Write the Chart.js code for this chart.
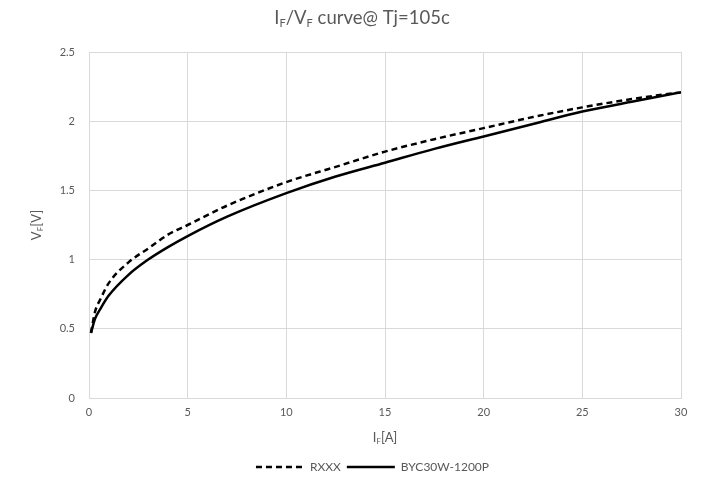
<!DOCTYPE html>
<html>
<head>
<meta charset="utf-8">
<script src="https://cdn.jsdelivr.net/npm/chart.js@4.4.1/dist/chart.umd.min.js"></script>
<style>
  html, body { margin: 0; padding: 0; background: #fff; }
  #wrap { width: 721px; height: 497px; position: relative; }
</style>
</head>
<body>
<div id="wrap"><canvas id="chartIV"></canvas></div>
<script>
// forward current I_F [A]
var currentA = [0.1, 0.3, 0.6, 1, 2, 3, 4, 5, 7, 10, 12.5, 15, 17.5, 20, 22.5, 25, 27.5, 30];
// forward voltage V_F [V]
var rxxxV = [0.47, 0.62, 0.72, 0.83, 0.98, 1.08, 1.18, 1.25, 1.39, 1.56, 1.67, 1.78, 1.87, 1.95, 2.03, 2.10, 2.16, 2.21];
var bycV  = [0.47, 0.57, 0.65, 0.74, 0.89, 1.00, 1.09, 1.17, 1.31, 1.48, 1.60, 1.70, 1.80, 1.89, 1.98, 2.07, 2.14, 2.21];
var seriesNames = ['RXXX', 'BYC30W-1200P'];

// "_X" means X is a subscript
var titleText = 'I_F/V_F curve@ Tj=105c';
var xTitleText = 'I_F[A]';
var yTitleText = 'V_F[V]';

var textGray = '#595959';
var gridGray = '#d9d9d9';
var fontFamily = 'Lato, "Open Sans", sans-serif';

function toPoints(xs, ys) {
  return xs.map(function(x, i) { return {x: x, y: ys[i]}; });
}

function splitSub(text) {
  var parts = [];
  for (var i = 0; i < text.length; i++) {
    if (text[i] === '_' && i + 1 < text.length) {
      parts.push({t: text[i + 1], sub: true});
      i++;
    } else if (parts.length && !parts[parts.length - 1].sub) {
      parts[parts.length - 1].t += text[i];
    } else {
      parts.push({t: text[i], sub: false});
    }
  }
  return parts;
}

// draws text centred on (cx, cy) with small lowered subscripts
function drawSubText(ctx, text, cx, cy, size, angle) {
  var parts = splitSub(text);
  var subSize = Math.round(size * 0.6);
  var total = 0;
  parts.forEach(function(p) {
    ctx.font = (p.sub ? subSize : size) + 'px ' + fontFamily;
    p.w = ctx.measureText(p.t).width;
    total += p.w;
  });
  ctx.save();
  ctx.translate(cx, cy);
  ctx.rotate(angle || 0);
  ctx.fillStyle = textGray;
  ctx.textBaseline = 'middle';
  ctx.textAlign = 'left';
  var x = -total / 2;
  parts.forEach(function(p) {
    ctx.font = (p.sub ? subSize : size) + 'px ' + fontFamily;
    ctx.fillText(p.t, x, p.sub ? size * 0.3 : 0);
    x += p.w;
  });
  ctx.restore();
}

var subTitles = {
  id: 'subTitles',
  afterLayout: function(chart) {
    // legend in the reference sits a bit right of the canvas centre
    if (chart.legend) {
      chart.legend.left += 32;
      chart.legend.right += 32;
    }
  },
  afterDraw: function(chart) {
    var ctx = chart.ctx;
    var area = chart.chartArea;
    drawSubText(ctx, titleText, 362, 18, 18.5, 0);
    drawSubText(ctx, xTitleText, (area.left + area.right) / 2, area.bottom + 40, 13, 0);
    drawSubText(ctx, yTitleText, 37, (area.top + area.bottom) / 2, 13, -Math.PI / 2);
  }
};

var ctxIV = document.getElementById('chartIV').getContext('2d');

var ivChart = new Chart(ctxIV, {
  type: 'line',
  data: {
    datasets: [{
      label: seriesNames[0],
      data: toPoints(currentA, rxxxV),
      borderColor: '#000',
      backgroundColor: '#000',
      borderWidth: 2.5,
      borderDash: [6, 4],
      pointRadius: 0,
      cubicInterpolationMode: 'monotone',
    }, {
      label: seriesNames[1],
      data: toPoints(currentA, bycV),
      borderColor: '#000',
      backgroundColor: '#000',
      borderWidth: 2.5,
      pointRadius: 0,
      cubicInterpolationMode: 'monotone',
    }],
  },
  options: {
    responsive: true,
    maintainAspectRatio: false,
    animation: false,
    layout: {padding: {top: 52, right: 40, bottom: 14, left: 0}},
    plugins: {
      title: {display: false},
      tooltip: {enabled: false},
      legend: {
        position: 'bottom',
        labels: {
          usePointStyle: true,
          pointStyle: 'line',
          pointStyleWidth: 48,
          color: textGray,
          font: {family: fontFamily, size: 12},
          padding: 6,
          generateLabels: function(chart) {
            var items = Chart.defaults.plugins.legend.labels.generateLabels(chart);
            items.forEach(function(item, i) {
              item.lineDash = chart.data.datasets[i].borderDash || [];
              item.lineWidth = 2.5;
            });
            return items;
          },
        },
      },
    },
    scales: {
      x: {
        type: 'linear',
        min: 0,
        max: 30,
        ticks: {stepSize: 5, color: textGray, font: {family: fontFamily, size: 11}, padding: 8},
        grid: {color: gridGray, drawTicks: false},
        border: {color: gridGray},
        afterFit: function(scale) { scale.height = 57; },
      },
      y: {
        min: 0,
        max: 2.5,
        ticks: {
          stepSize: 0.5,
          color: textGray,
          font: {family: fontFamily, size: 11},
          padding: 14,
          callback: function(v) { return String(v); },
        },
        grid: {color: gridGray, drawTicks: false},
        border: {color: gridGray},
        afterFit: function(scale) { scale.width = 89; },
      },
    },
  },
  plugins: [subTitles],
});
</script>
</body>
</html>
